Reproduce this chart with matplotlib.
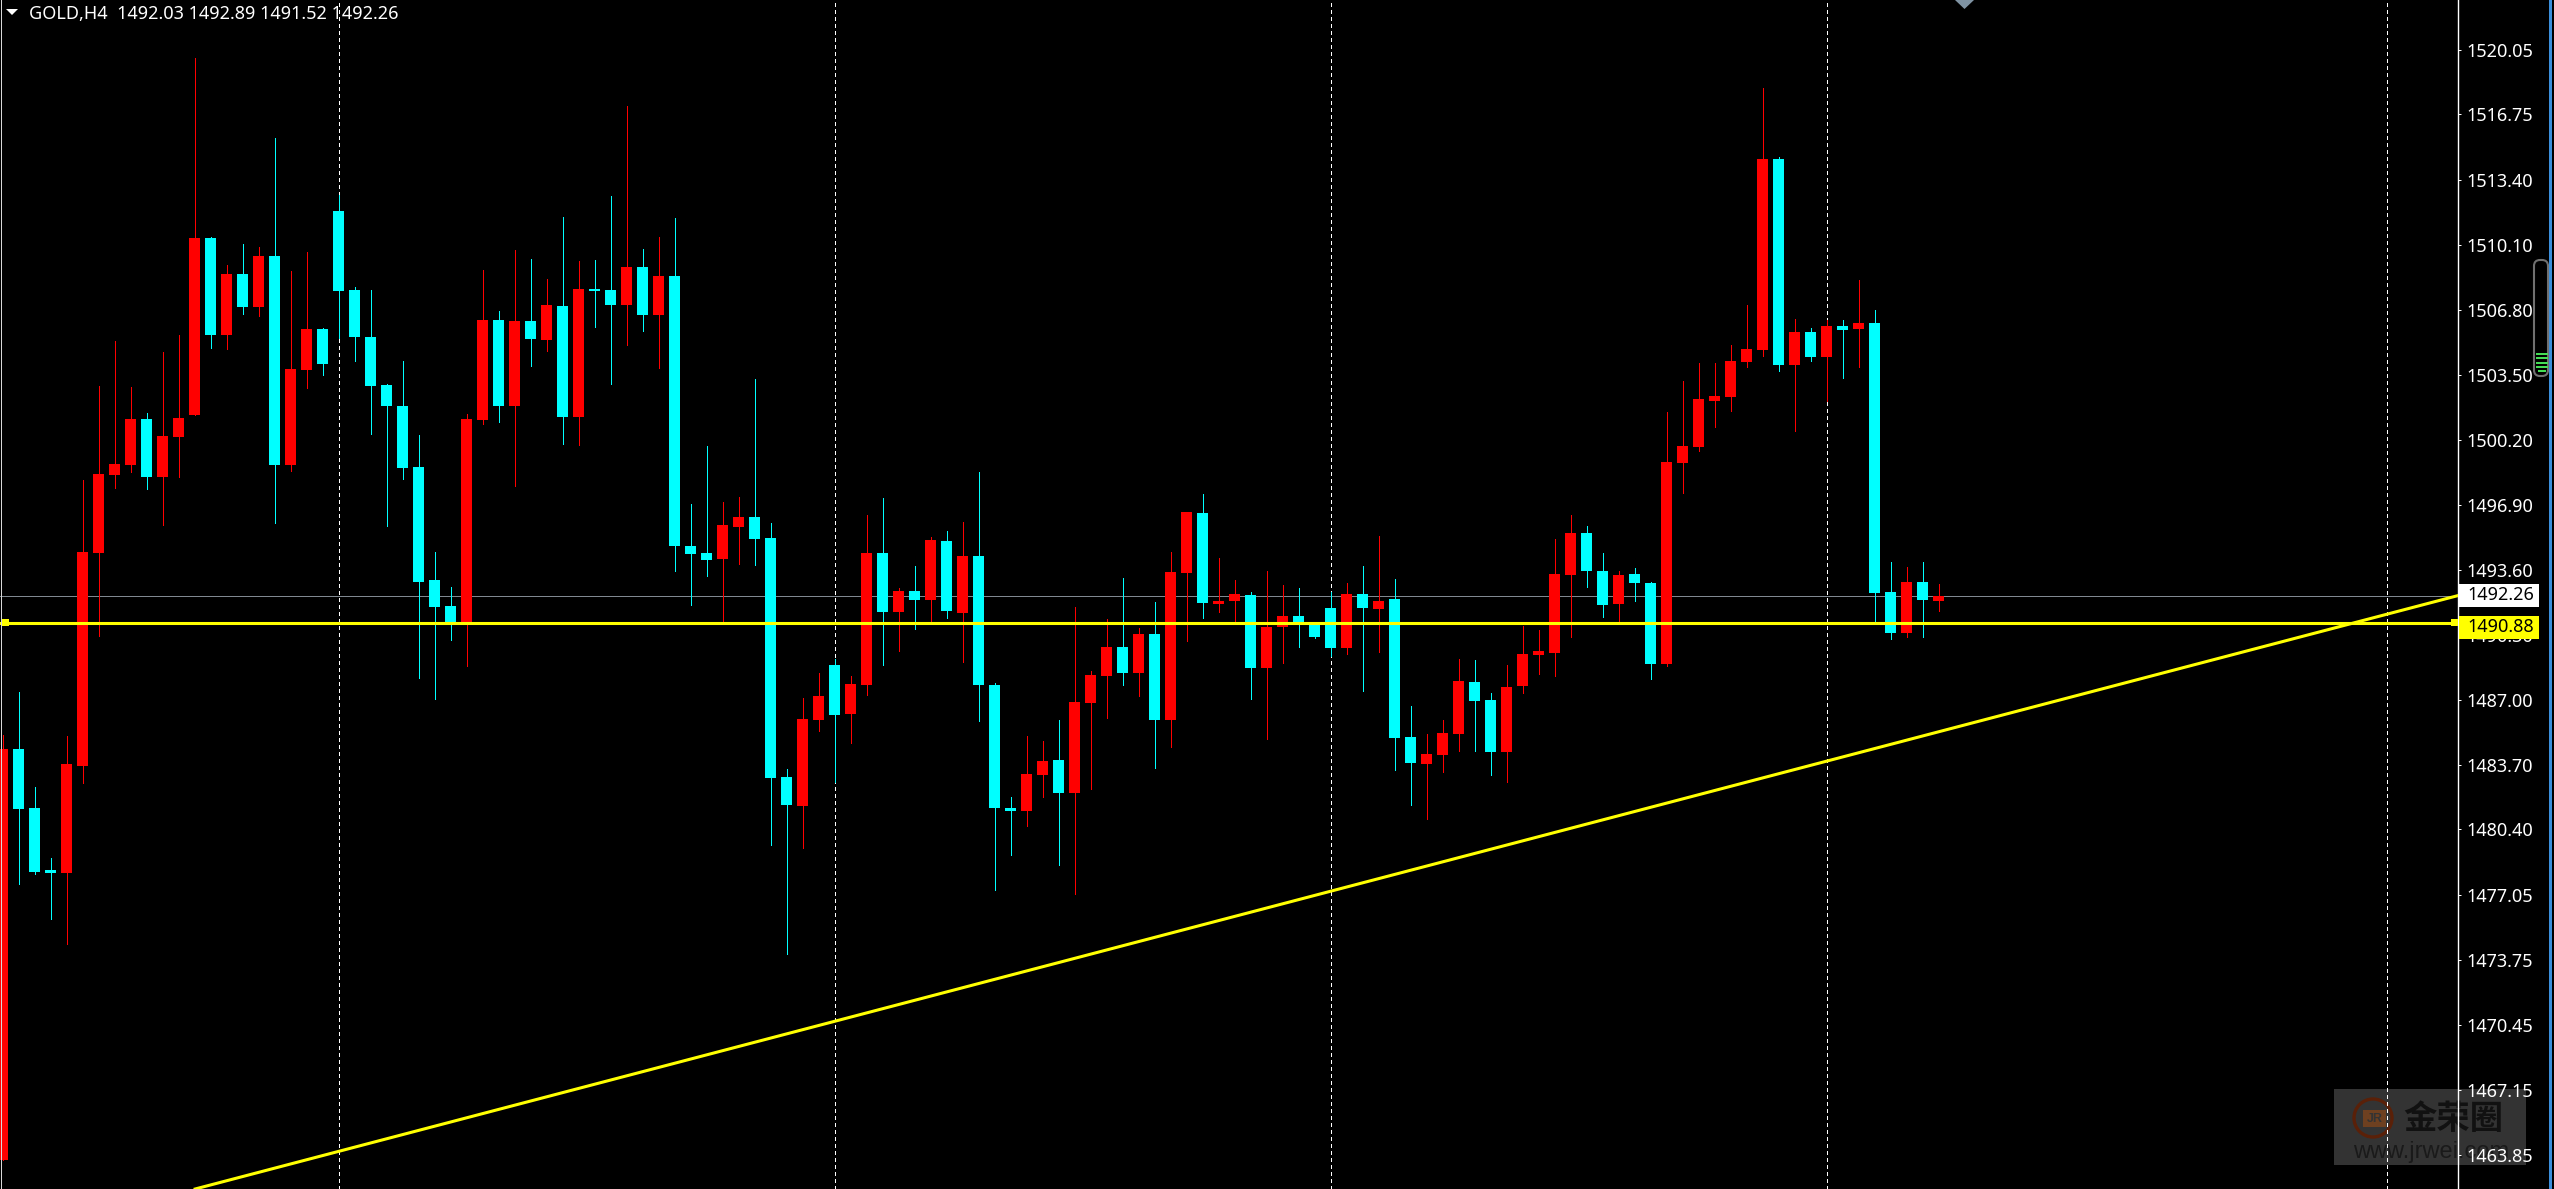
import numpy as np
import matplotlib
matplotlib.use("Agg")
import matplotlib.pyplot as plt
from matplotlib.patches import Rectangle, Polygon, FancyBboxPatch, Circle

# -----------------------------------------
# Data: GOLD H4 bars
# -----------------------------------------
opens = [
    1463.59, 1484.50, 1481.48, 1478.33, 1478.17, 1483.65, 1494.45, 1498.41, 1498.93, 1501.26,
    1498.31, 1500.36, 1501.46, 1510.47, 1505.54, 1508.63, 1506.97, 1509.57, 1498.93, 1503.76,
    1505.84, 1511.84, 1507.81, 1505.45, 1502.98, 1501.91, 1498.83, 1493.09, 1491.76, 1490.90,
    1501.20, 1506.29, 1501.91, 1506.26, 1505.28, 1507.00, 1501.36, 1507.88, 1507.81, 1507.07,
    1508.98, 1506.55, 1508.53, 1494.81, 1494.45, 1494.16, 1495.79, 1496.29, 1495.22, 1483.08,
    1481.61, 1485.96, 1488.75, 1486.28, 1487.76, 1494.45, 1491.46, 1492.52, 1492.07, 1495.06,
    1491.41, 1494.32, 1487.76, 1481.49, 1481.33, 1483.17, 1483.94, 1482.26, 1486.83, 1488.21,
    1489.69, 1488.35, 1490.34, 1485.96, 1493.43, 1496.49, 1491.86, 1492.02, 1492.32, 1488.62,
    1490.71, 1491.25, 1490.80, 1491.66, 1489.62, 1492.37, 1491.60, 1492.11, 1485.10, 1483.72,
    1484.18, 1485.25, 1487.89, 1486.98, 1484.33, 1487.69, 1489.27, 1489.37, 1493.33, 1495.47,
    1493.54, 1491.86, 1493.38, 1492.93, 1488.81, 1499.04, 1499.85, 1502.19, 1502.38, 1504.16,
    1504.79, 1514.48, 1504.02, 1505.70, 1504.41, 1505.99, 1505.85, 1506.16, 1492.48, 1490.39,
    1492.98, 1492.03,
]
highs = [
    1485.21, 1487.38, 1482.55, 1478.95, 1485.15, 1498.15, 1502.95, 1505.22, 1502.88, 1501.56,
    1504.67, 1505.54, 1519.62, 1510.54, 1509.08, 1510.15, 1510.02, 1515.57, 1508.79, 1509.76,
    1505.90, 1512.68, 1507.98, 1507.81, 1503.05, 1504.21, 1500.45, 1494.49, 1492.73, 1501.52,
    1508.85, 1506.74, 1509.86, 1509.40, 1508.40, 1511.54, 1509.31, 1509.34, 1512.61, 1517.19,
    1509.92, 1510.51, 1511.48, 1496.93, 1499.90, 1497.06, 1497.31, 1503.30, 1495.97, 1483.47,
    1487.08, 1488.35, 1489.05, 1488.21, 1496.38, 1497.24, 1492.68, 1493.79, 1495.27, 1495.59,
    1496.04, 1498.58, 1487.85, 1482.06, 1485.15, 1484.90, 1485.96, 1491.71, 1488.46, 1491.09,
    1493.18, 1490.62, 1491.98, 1494.52, 1496.54, 1497.45, 1494.20, 1493.09, 1492.48, 1493.54,
    1492.84, 1492.68, 1490.84, 1492.45, 1492.93, 1493.79, 1495.32, 1493.13, 1486.67, 1485.25,
    1485.96, 1489.06, 1489.01, 1487.33, 1488.76, 1490.74, 1490.54, 1495.16, 1496.38, 1495.82,
    1494.45, 1493.54, 1493.69, 1492.98, 1501.63, 1503.21, 1504.12, 1504.12, 1505.04, 1507.07,
    1518.09, 1514.58, 1506.34, 1505.89, 1506.28, 1506.30, 1508.34, 1506.82, 1494.00, 1493.75,
    1494.00, 1492.89,
]
lows = [
    1463.59, 1477.65, 1478.11, 1475.87, 1474.57, 1482.75, 1490.21, 1497.76, 1498.57, 1497.70,
    1495.88, 1498.31, 1501.46, 1504.86, 1504.83, 1506.61, 1506.52, 1495.98, 1498.60, 1502.85,
    1503.50, 1505.41, 1504.21, 1500.49, 1495.82, 1498.22, 1488.10, 1487.03, 1490.01, 1488.71,
    1501.00, 1501.10, 1497.86, 1503.96, 1504.73, 1500.00, 1499.93, 1505.93, 1503.05, 1505.03,
    1505.74, 1503.86, 1493.55, 1491.79, 1493.29, 1490.98, 1493.91, 1493.84, 1479.61, 1474.07,
    1479.45, 1485.42, 1482.83, 1484.81, 1487.23, 1488.75, 1489.48, 1490.59, 1490.98, 1491.16,
    1488.91, 1485.92, 1477.32, 1479.11, 1480.58, 1482.06, 1478.59, 1477.11, 1482.47, 1486.08,
    1487.76, 1487.19, 1483.53, 1484.60, 1489.98, 1491.16, 1491.46, 1490.82, 1487.03, 1485.01,
    1488.87, 1489.69, 1490.12, 1489.23, 1489.32, 1487.44, 1489.44, 1483.42, 1481.64, 1480.93,
    1483.32, 1484.39, 1484.39, 1483.17, 1482.81, 1487.33, 1488.30, 1488.20, 1490.18, 1492.72,
    1491.20, 1490.93, 1492.01, 1488.05, 1488.70, 1497.50, 1499.64, 1500.86, 1501.67, 1503.92,
    1504.48, 1503.71, 1500.66, 1504.23, 1502.19, 1503.35, 1503.92, 1490.95, 1490.07, 1490.18,
    1490.18, 1491.52,
]
closes = [
    1484.50, 1481.45, 1478.24, 1478.21, 1483.72, 1494.49, 1498.47, 1498.96, 1501.26, 1498.31,
    1500.39, 1501.33, 1510.47, 1505.54, 1508.63, 1506.97, 1509.57, 1498.93, 1503.79, 1505.84,
    1504.05, 1507.78, 1505.45, 1502.95, 1501.91, 1498.77, 1492.96, 1491.70, 1490.95, 1501.26,
    1506.29, 1501.91, 1506.26, 1505.32, 1507.07, 1501.36, 1507.88, 1507.78, 1507.07, 1508.98,
    1506.55, 1508.53, 1494.81, 1494.39, 1494.11, 1495.88, 1496.29, 1495.18, 1483.01, 1481.65,
    1486.01, 1487.19, 1486.21, 1487.80, 1494.45, 1491.46, 1492.52, 1492.07, 1495.11, 1491.50,
    1494.32, 1487.76, 1481.49, 1481.33, 1483.22, 1483.88, 1482.26, 1486.89, 1488.26, 1489.69,
    1488.35, 1490.34, 1485.96, 1493.50, 1496.54, 1491.91, 1492.02, 1492.36, 1488.62, 1490.71,
    1491.25, 1490.80, 1490.18, 1489.62, 1492.36, 1491.66, 1492.01, 1485.05, 1483.78, 1484.23,
    1485.30, 1487.94, 1486.93, 1484.33, 1487.64, 1489.32, 1489.47, 1493.38, 1495.47, 1493.54,
    1491.81, 1493.33, 1492.93, 1488.81, 1499.08, 1499.89, 1502.28, 1502.44, 1504.23, 1504.83,
    1514.48, 1504.02, 1505.70, 1504.41, 1505.99, 1505.80, 1506.16, 1492.42, 1490.39, 1492.98,
    1492.07, 1492.26,
]

price_ticks = [1520.05, 1516.75, 1513.40, 1510.10, 1506.80, 1503.50, 1500.20, 1496.90, 1493.60,
               1490.30, 1487.00, 1483.70, 1480.40, 1477.05, 1473.75, 1470.45, 1467.15, 1463.85]
separator_bars = [21, 52, 83, 114, 149]
bid_price = 1492.26
level_price = 1490.88
trend_bars = [12.04, 153.42]
trend_prices = [1462.12, 1492.28]
title = "GOLD,H4  1492.03 1492.89 1491.52 1492.26"

# -----------------------------------------
# Figure and axes, price scale on the right
# -----------------------------------------
W, H = 2554, 1189
UI_FONT = "Noto Sans"
LABEL_SIZE = 13
fig = plt.figure(figsize=(W / 100, H / 100), dpi=100, facecolor="black")

axis_x = 2458
ax = fig.add_axes([0, 0, axis_x / W, 1], facecolor="none")
ax.set_xlim(-2.5 / 16, (axis_x - 2.5) / 16)
ax.set_ylim(1462.12, 1522.57)
ax.set_xticks([])
ax.yaxis.tick_right()
ax.set_yticks(price_ticks)
ax.set_yticklabels([f"{p:.2f}" for p in price_ticks], fontname=UI_FONT, fontsize=LABEL_SIZE, color="white")
ax.tick_params(axis="y", length=2, width=0.72, color="white", pad=4.2)
for side in ["top", "bottom", "left"]:
    ax.spines[side].set_visible(False)
ax.spines["right"].set_color("white")
ax.spines["right"].set_linewidth(1.0)

# -----------------------------------------
# Candles, separators and levels
# -----------------------------------------
o = np.array(opens)
c = np.array(closes)
bars = np.arange(len(o))
colors = np.where(c >= o, "#ff0000", "#00ffff")

for b in separator_bars:
    ax.axvline(b, color="white", lw=0.72, ls=(0, (3, 3)), zorder=1, antialiased=False)
ax.axhline(bid_price, color="#808890", lw=0.72, zorder=1.5)

ax.vlines(bars, lows, highs, colors=colors, lw=0.7, zorder=2, antialiased=False)
ax.bar(bars, np.abs(c - o), bottom=np.minimum(o, c), width=11 / 16, color=colors,
       linewidth=0, zorder=3, antialiased=False)

ax.axhline(level_price, color="#ffff00", lw=2.2, zorder=4)
ax.plot(trend_bars, trend_prices, color="#ffff00", lw=2.2, zorder=4)

ax.text(26.5 / 16, 1522.57 - 14.5 / 19.67, title, fontname=UI_FONT, fontsize=LABEL_SIZE, color="white",
        va="center", ha="left", zorder=6)

# -----------------------------------------
# Overlay in pixel coordinates for terminal furniture
# -----------------------------------------
ui = fig.add_axes([0, 0, 1, 1], facecolor="none", zorder=5)
ui.set_xlim(0, W)
ui.set_ylim(H, 0)
ui.axis("off")

# left window edge
ui.add_patch(Rectangle((1, 0), 1, H, color="#d8d8d8", lw=0))
# menu triangle next to the title
ui.add_patch(Polygon([[6, 9], [18, 9], [12, 15]], color="white", lw=0))
# object marker at the top edge
ui.add_patch(Polygon([[1955, 0], [1974, 0], [1964.5, 9]], color="#7f93a3", lw=0))

# handles of the horizontal level
ui.add_patch(Rectangle((2, 619), 7, 7, color="#ffff00", lw=0))
ui.add_patch(Rectangle((2451, 619), 7, 7, color="#ffff00", lw=0))

# price tags
ui.add_patch(Rectangle((2459, 584), 80, 23, color="white", lw=0, zorder=3))
ui.text(2467, 595.5, "1492.26", fontname=UI_FONT, fontsize=LABEL_SIZE, color="black", va="center", zorder=4)
ui.add_patch(Rectangle((2459, 616), 80, 23, color="#ffff00", lw=0, zorder=3))
ui.text(2467, 627.5, "1490.88", fontname=UI_FONT, fontsize=LABEL_SIZE, color="black", va="center", zorder=4)

# window border and scroll slider
ui.add_patch(Rectangle((2549, 0), 3, H, color="#3b8fdc", lw=0))
ui.add_patch(FancyBboxPatch((2534, 260), 14, 116, boxstyle="round,pad=0,rounding_size=6",
                            fc="none", ec="#707070", lw=1.5))
for top, left, right in [(353, 2536, 2548), (357, 2536, 2548), (362, 2536, 2548), (366, 2536, 2548), (370, 2538, 2546)]:
    ui.add_patch(Rectangle((left, top), right - left, 2, color="#44dd55", lw=0))

# watermark, below the chart's bright strokes
wm = fig.add_axes([0, 0, 1, 1], facecolor="none", zorder=-1)
wm.set_xlim(0, W)
wm.set_ylim(H, 0)
wm.axis("off")
wm.add_patch(Rectangle((2334, 1089), 192, 76, color="#333333", lw=0))
wm.add_patch(Circle((2373, 1118), 19, fc="none", ec="#5a2008", lw=2.4))
wm.add_patch(Rectangle((2363, 1110), 23, 17, color="#6e4020", lw=0))
wm.text(2374.5, 1118.5, "JR", fontname="Liberation Sans", fontsize=9, weight="bold", color="#333333",
        ha="center", va="center")
wm.text(2453, 1119, "金荣圈", family=["Noto Sans CJK SC", "DejaVu Sans"], fontsize=24, weight="bold",
        color="#111111", ha="center", va="center")
wm.text(2353, 1152, "www.jrwei.com", fontname="Liberation Sans", fontsize=17, color="#1a1a1a",
        ha="left", va="center")

fig.savefig("out.png", dpi=100, facecolor="black")
plt.close(fig)
